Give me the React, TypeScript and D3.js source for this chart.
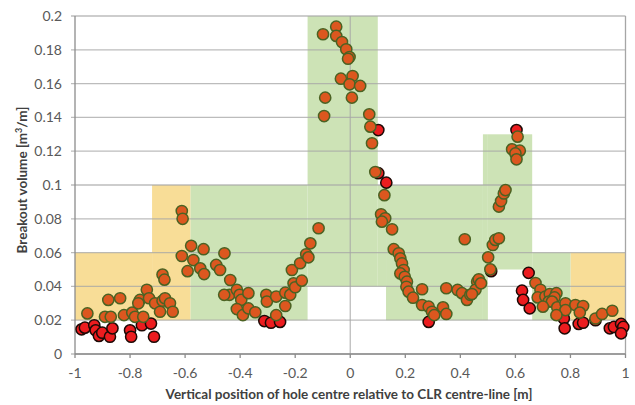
import React from "react";
import * as d3 from "d3";

// Envelope bands: [xStart, xEnd, lower, upper]
const yellowBands: [number, number, number, number][] = [
  [-1, -0.72, 0.02, 0.06],
  [-0.72, -0.58, 0.02, 0.1],
  [0.8, 1, 0.02, 0.06],
];
const greenBands: [number, number, number, number][] = [
  [-0.58, -0.155, 0.02, 0.1],
  [-0.155, 0.1, 0.04, 0.2],
  [0.1, 0.13, 0.04, 0.1],
  [0.13, 0.482, 0.02, 0.1],
  [0.482, 0.5, 0.02, 0.13],
  [0.5, 0.661, 0.05, 0.13],
  [0.661, 0.8, 0.02, 0.06],
];

// Measurements inside the envelope: [position, volume]
const insidePoints: [number, number][] = [
  [-0.955, 0.024], [-0.891, 0.022], [-0.87, 0.022], [-0.879, 0.032], [-0.836, 0.033],
  [-0.822, 0.023], [-0.792, 0.0245], [-0.782, 0.022], [-0.764, 0.032], [-0.77, 0.03],
  [-0.752, 0.022], [-0.739, 0.038], [-0.731, 0.033], [-0.709, 0.03], [-0.691, 0.025],
  [-0.682, 0.0315], [-0.673, 0.033], [-0.682, 0.047], [-0.675, 0.044], [-0.655, 0.03], [-0.645, 0.025],
  [-0.612, 0.0846], [-0.609, 0.08], [-0.578, 0.064], [-0.612, 0.058], [-0.57, 0.0556],
  [-0.591, 0.049], [-0.533, 0.062], [-0.545, 0.0507], [-0.531, 0.0473], [-0.487, 0.0527],
  [-0.473, 0.0497], [-0.457, 0.0596], [-0.436, 0.0438], [-0.439, 0.035], [-0.458, 0.035],
  [-0.412, 0.038], [-0.402, 0.035], [-0.396, 0.032], [-0.37, 0.036], [-0.412, 0.0266],
  [-0.39, 0.023], [-0.37, 0.027], [-0.345, 0.0247], [-0.305, 0.035], [-0.303, 0.031],
  [-0.269, 0.034], [-0.269, 0.023], [-0.236, 0.0363], [-0.236, 0.0284], [-0.218, 0.035],
  [-0.212, 0.0497], [-0.206, 0.0418], [-0.2, 0.0395], [-0.182, 0.0537], [-0.176, 0.0434],
  [-0.16, 0.059], [-0.152, 0.0572], [-0.145, 0.0655], [-0.115, 0.0744],
  [-0.051, 0.1937], [-0.099, 0.1892], [-0.051, 0.1882], [-0.03, 0.1846], [-0.0145, 0.1803],
  [-0.0025, 0.1757], [-0.008, 0.1747], [0.0085, 0.1645], [-0.034, 0.1629], [-0.0025, 0.1596],
  [0.036, 0.1586], [-0.091, 0.1517], [0.006, 0.1517], [-0.095, 0.1408], [0.069, 0.1418],
  [0.073, 0.1345], [0.079, 0.1247], [0.091, 0.1077],
  [0.124, 0.094], [0.112, 0.0827], [0.127, 0.0803], [0.115, 0.0783], [0.152, 0.0738],
  [0.158, 0.062], [0.176, 0.0596], [0.182, 0.0566], [0.188, 0.0536], [0.194, 0.0497],
  [0.182, 0.0477], [0.198, 0.0457], [0.206, 0.0428], [0.204, 0.0398], [0.212, 0.0369],
  [0.228, 0.0333], [0.261, 0.0383], [0.261, 0.029], [0.285, 0.028], [0.297, 0.025],
  [0.305, 0.023], [0.337, 0.0276], [0.349, 0.0237], [0.349, 0.0389], [0.39, 0.0379],
  [0.406, 0.036], [0.424, 0.032], [0.436, 0.035], [0.416, 0.0679], [0.461, 0.0428],
  [0.455, 0.038], [0.442, 0.0355], [0.467, 0.0442], [0.475, 0.0418], [0.501, 0.0572],
  [0.509, 0.0501], [0.518, 0.0645], [0.527, 0.0675], [0.54, 0.0685], [0.54, 0.0872],
  [0.548, 0.0905], [0.558, 0.095], [0.564, 0.097], [0.608, 0.1286], [0.588, 0.1211],
  [0.616, 0.1203], [0.6, 0.1187], [0.604, 0.1152],
  [0.673, 0.042], [0.691, 0.038], [0.681, 0.0335], [0.709, 0.034], [0.725, 0.0355],
  [0.749, 0.036], [0.742, 0.0335], [0.721, 0.031], [0.733, 0.031], [0.7, 0.028],
  [0.752, 0.0276], [0.782, 0.03], [0.782, 0.026], [0.749, 0.023], [0.818, 0.029],
  [0.846, 0.0284], [0.834, 0.0245], [0.891, 0.021], [0.915, 0.0237], [0.952, 0.0256],
];

// Measurements outside the envelope
const outsidePoints: [number, number][] = [
  [-0.976, 0.0146], [-0.964, 0.0156], [-0.93, 0.017], [-0.925, 0.014], [-0.913, 0.0107],
  [-0.901, 0.0126], [-0.873, 0.0102], [-0.864, 0.0152], [-0.8, 0.014], [-0.796, 0.0102],
  [-0.757, 0.017], [-0.724, 0.018], [-0.713, 0.0102], [-0.312, 0.0195], [-0.288, 0.0185],
  [-0.255, 0.019], [0.102, 0.1325], [0.102, 0.107], [0.131, 0.1014], [0.285, 0.019],
  [0.604, 0.1325], [0.512, 0.049], [0.648, 0.048], [0.624, 0.0375], [0.628, 0.032],
  [0.652, 0.027], [0.776, 0.021], [0.779, 0.0152], [0.83, 0.0178], [0.846, 0.0185],
  [0.891, 0.02], [0.943, 0.0152], [0.958, 0.016], [0.984, 0.0178], [0.992, 0.016],
  [0.984, 0.0122],
];

const xTicks = [-1, -0.8, -0.6, -0.4, -0.2, 0, 0.2, 0.4, 0.6, 0.8, 1];
const yTicks = [0, 0.02, 0.04, 0.06, 0.08, 0.1, 0.12, 0.14, 0.16, 0.18, 0.2];

const xTitle = "Vertical position of hole centre relative to CLR centre-line [m]";

const W = 635;
const H = 405;
const left = 75;
const right = 625.5;
const top = 16;
const bottom = 354;

export default function App() {
  const x = d3.scaleLinear().domain([-1, 1]).range([left, right]);
  const y = d3.scaleLinear().domain([0, 0.2]).range([bottom, top]);
  const font = "Lato, 'Open Sans', sans-serif";

  const band = (b: [number, number, number, number], fill: string, i: number) => (
    <rect
      key={fill + i}
      x={x(b[0])}
      y={y(b[3])}
      width={x(b[1]) - x(b[0])}
      height={y(b[2]) - y(b[3])}
      fill={fill}
    />
  );

  return (
    <svg
      width={W}
      height={H}
      style={{ position: "absolute", left: 0, top: 0, background: "#fff" }}
    >
      {yellowBands.map((b, i) => band(b, "#f8dd97", i))}
      {greenBands.map((b, i) => band(b, "#cde3b6", i))}

      {yTicks.map((t) => (
        <line
          key={"g" + t}
          x1={left - 4}
          x2={right}
          y1={y(t)}
          y2={y(t)}
          stroke="#a6a6a6"
          strokeOpacity={0.75}
          strokeWidth={1.3}
        />
      ))}
      <line x1={x(0)} x2={x(0)} y1={top} y2={bottom} stroke="#a6a6a6" strokeOpacity={0.75} strokeWidth={1.3} />
      <line x1={right} x2={right} y1={top} y2={bottom} stroke="#a6a6a6" strokeWidth={1.3} />
      <line x1={left} x2={left} y1={top} y2={bottom} stroke="#8c8c8c" strokeWidth={1.3} />
      <line x1={left} x2={right} y1={bottom} y2={bottom} stroke="#8c8c8c" strokeWidth={1.3} />
      {xTicks.map((t) => (
        <line key={"xt" + t} x1={x(t)} x2={x(t)} y1={bottom} y2={bottom + 4} stroke="#8c8c8c" strokeWidth={1.3} />
      ))}

      {outsidePoints.map((p, i) => (
        <circle key={"o" + i} cx={x(p[0])} cy={y(p[1])} r={5.6} fill="#ec1c1f" stroke="#1d0a06" strokeWidth={1.5} />
      ))}
      {insidePoints.map((p, i) => (
        <circle key={"i" + i} cx={x(p[0])} cy={y(p[1])} r={5.6} fill="#dc571f" stroke="#4b6223" strokeWidth={1.5} />
      ))}

      {yTicks.map((t) => (
        <text
          key={"yl" + t}
          x={62}
          y={y(t)}
          dy="0.35em"
          textAnchor="end"
          fontFamily={font}
          fontSize={14}
          fill="#595959"
        >
          {String(t)}
        </text>
      ))}
      {xTicks.map((t) => (
        <text
          key={"xl" + t}
          x={x(t)}
          y={378}
          textAnchor="middle"
          fontFamily={font}
          fontSize={14}
          fill="#595959"
        >
          {String(t)}
        </text>
      ))}

      <text
        x={(161 + 537) / 2}
        y={399}
        textAnchor="middle"
        fontFamily={font}
        fontSize={13.5}
        fontWeight="bold"
        fill="#404040"
      >
        {xTitle}
      </text>
      <text
        transform={`translate(27, 180) rotate(-90)`}
        textAnchor="middle"
        fontFamily={font}
        fontSize={13.5}
        fontWeight="bold"
        fill="#404040"
      >
        Breakout volume [m
        <tspan dy={-5} fontSize={9}>3</tspan>
        <tspan dy={5}>/m]</tspan>
      </text>
    </svg>
  );
}
